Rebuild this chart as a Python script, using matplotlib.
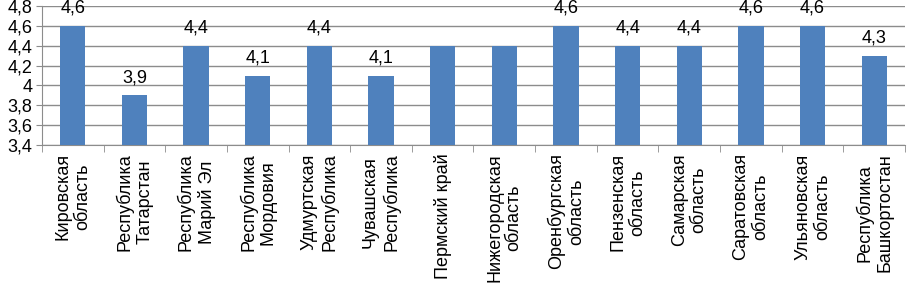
import numpy as np
import matplotlib
matplotlib.use('Agg')
import matplotlib.pyplot as plt

plt.rcParams['font.family'] = ['Liberation Sans', 'DejaVu Sans']

regions = ['Кировская\nобласть', 'Республика\nТатарстан', 'Республика\nМарий Эл',
           'Республика\nМордовия', 'Удмуртская\nРеспублика', 'Чувашская\nРеспублика',
           'Пермский край', 'Нижегородская\nобласть', 'Оренбургская\nобласть',
           'Пензенская\nобласть', 'Самарская\nобласть', 'Саратовская\nобласть',
           'Ульяновская\nобласть', 'Республика\nБашкортостан']
values = [4.6, 3.9, 4.4, 4.1, 4.4, 4.1, 4.4, 4.4, 4.6, 4.4, 4.4, 4.6, 4.6, 4.3]
# labels the source chart shows above bars (two were omitted there)
show_label = [True, True, True, True, True, True, False, False, True, True, True, True, True, True]
yticks = [3.4, 3.6, 3.8, 4.0, 4.2, 4.4, 4.6, 4.8]

def fmt(v):
    s = ('%.1f' % v).replace('.', ',')
    return s[:-2] if s.endswith(',0') else s

fig = plt.figure(figsize=(9.1, 2.89), dpi=100)
ax = fig.add_axes([42/910, 1 - 145/289, 863/910, 139/289])

x = np.arange(len(values))
bars = ax.bar(x, np.array(values) - 3.4, bottom=3.4, width=0.41, color='#4F81BD', zorder=3)

for xi, v, s in zip(x, values, show_label):
    if s:
        ax.annotate(fmt(v), (xi, v), xytext=(0, 6.5), textcoords='offset points',
                    ha='center', va='bottom', fontsize=13, annotation_clip=False)

ax.set_xlim(-0.5, len(values) - 0.5)
ax.set_ylim(3.4, 4.8)
ax.set_yticks(yticks)
ax.set_yticklabels([fmt(t) for t in yticks], fontsize=13)
ax.yaxis.grid(True, color='#8c8c8c', linewidth=1.0, zorder=0)
ax.tick_params(axis='y', length=4, color='#8c8c8c', pad=3)

ax.set_xticks(x)
ax.set_xticklabels(regions, rotation=90, fontsize=13, ha='center', va='top',
                   multialignment='center', linespacing=1.2)
ax.set_xticks(np.arange(len(values) + 1) - 0.5, minor=True)
ax.tick_params(axis='x', which='major', length=0, pad=6)
ax.tick_params(axis='x', which='minor', length=5, color='#8c8c8c')

for side in ['top', 'right']:
    ax.spines[side].set_visible(False)
for side in ['left', 'bottom']:
    ax.spines[side].set_color('#8c8c8c')

fig.savefig('out.png', dpi=100)
